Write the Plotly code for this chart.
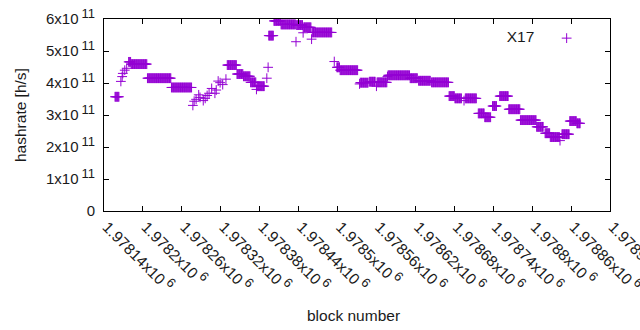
import plotly.graph_objects as go

# Hashrate runs: block ranges with a constant value (h/s, x1e11)
run_start = [1978157, 1978166, 1978168, 1978169, 1978172, 1978175, 1978178, 1978182, 1978207, 1978244,
             1978277, 1978279, 1978282, 1978286, 1978288, 1978293, 1978296, 1978299, 1978302, 1978306,
             1978311, 1978313, 1978316, 1978319, 1978323, 1978328, 1978330, 1978345, 1978355, 1978366,
             1978375, 1978376, 1978391, 1978393, 1978394, 1978402, 1978413, 1978436, 1978437, 1978447,
             1978448, 1978460, 1978461, 1978495, 1978499, 1978504, 1978534, 1978535, 1978549, 1978560,
             1978561, 1978577, 1978578, 1978612, 1978625, 1978645, 1978672, 1978681, 1978695, 1978697,
             1978717, 1978727, 1978739, 1978750, 1978764, 1978782, 1978807, 1978820, 1978828, 1978843,
             1978846, 1978858, 1978869]
run_end = [1978163, 1978166, 1978168, 1978169, 1978172, 1978175, 1978181, 1978206, 1978243, 1978275,
           1978277, 1978279, 1978282, 1978286, 1978288, 1978293, 1978296, 1978299, 1978302, 1978306,
           1978311, 1978313, 1978316, 1978319, 1978323, 1978328, 1978344, 1978354, 1978365, 1978374,
           1978375, 1978387, 1978391, 1978393, 1978401, 1978412, 1978435, 1978436, 1978446, 1978447,
           1978459, 1978460, 1978491, 1978495, 1978503, 1978531, 1978534, 1978547, 1978558, 1978560,
           1978576, 1978577, 1978611, 1978623, 1978643, 1978671, 1978680, 1978691, 1978695, 1978714,
           1978726, 1978736, 1978745, 1978763, 1978781, 1978806, 1978817, 1978827, 1978842, 1978843,
           1978857, 1978868, 1978874]
run_value = [3.57, 4.05, 4.20, 4.30, 4.40, 4.46, 4.66, 4.59, 4.15, 3.86,
             3.30, 3.43, 3.49, 3.63, 3.55, 3.45, 3.52, 3.61, 3.68, 3.83,
             3.68, 3.78, 4.06, 4.01, 3.95, 4.12, 4.56, 4.28, 4.21, 4.02,
             3.80, 3.90, 4.15, 4.49, 5.48, 5.94, 5.83, 5.29, 5.81, 5.57,
             5.74, 5.37, 5.58, 4.67, 4.49, 4.40, 3.97, 4.01, 4.04, 3.90,
             4.02, 4.20, 4.24, 4.15, 4.07, 4.02, 3.59, 3.52, 3.45, 3.52,
             3.05, 2.93, 3.28, 3.59, 3.18, 2.84, 2.63, 2.43, 2.31, 2.20,
             2.40, 2.81, 2.74]

x_tick_vals = [1978140, 1978200, 1978260, 1978320, 1978380, 1978440, 1978500, 1978560,
               1978620, 1978680, 1978740, 1978800, 1978860, 1978920]
x_tick_text = ["1.97814", "1.9782", "1.97826", "1.97832", "1.97838", "1.97844", "1.9785",
               "1.97856", "1.97862", "1.97868", "1.97874", "1.9788", "1.97886", "1.97892"]
y_tick_vals = [0, 1e11, 2e11, 3e11, 4e11, 5e11, 6e11]
y_tick_text = ["0", "1", "2", "3", "4", "5", "6"]

blocks, rates = [], []
for s, e, v in zip(run_start, run_end, run_value):
    for b in range(s, e + 1):
        blocks.append(b)
        rates.append(v * 1e11)

COLOR = "#9400D3"
FONT = "Liberation Sans, Arial, sans-serif"
SUP = "<sup><span style='font-size:13px'>%s</span></sup>"

fig = go.Figure()
fig.add_trace(go.Scatter(
    x=blocks, y=rates, mode="markers", name=" ",
    marker=dict(symbol="cross-thin", size=7, color=COLOR, line=dict(width=1, color=COLOR)),
))

fig.update_layout(
    width=640, height=330,
    margin=dict(l=104, r=30, t=19, b=119, autoexpand=False),
    paper_bgcolor="white", plot_bgcolor="white",
    font=dict(family=FONT, size=15, color="#1a1a1a"),
    showlegend=True,
    legend=dict(
        title=dict(text="X17&nbsp;", side="left", font=dict(size=15.5)),
        x=0.792, y=0.985, xanchor="left", yanchor="top",
        bgcolor="rgba(0,0,0,0)", itemwidth=30,
    ),
    xaxis=dict(
        range=[1978140, 1978920.05],
        tickvals=x_tick_vals,
        ticktext=[t + "x10\u2009" + SUP % "6" for t in x_tick_text],
        tickangle=45, automargin=False, ticklabeloverflow="allow",
        ticklabelshift=3,
        ticks="inside", ticklen=5, tickcolor="black",
        showline=True, linecolor="black", linewidth=1, mirror="ticks",
        showgrid=False, zeroline=False,
        tickfont=dict(size=15.5),
    ),
    yaxis=dict(
        range=[0, 6e11],
        tickvals=y_tick_vals,
        ticktext=[y_tick_text[0]] + [t + "x10\u2009" + SUP % "11" for t in y_tick_text[1:]],
        automargin=False, ticklabelstandoff=5,
        ticks="inside", ticklen=5, tickcolor="black",
        showline=True, linecolor="black", linewidth=1, mirror="ticks",
        showgrid=False, zeroline=False,
        tickfont=dict(size=15),
    ),
    annotations=[
        dict(text="block number", xref="paper", yref="paper", x=0.494, y=-0.542,
             showarrow=False, font=dict(size=15.5), xanchor="center", yanchor="middle"),
        dict(text="hashrate [h/s]", xref="paper", yref="paper", x=-0.166, y=0.5,
             showarrow=False, font=dict(size=15.5), textangle=-90,
             xanchor="center", yanchor="middle"),
    ],
)

fig.write_html("out.html", post_script="document.body.style.margin='0';",
               config={"displayModeBar": False})
